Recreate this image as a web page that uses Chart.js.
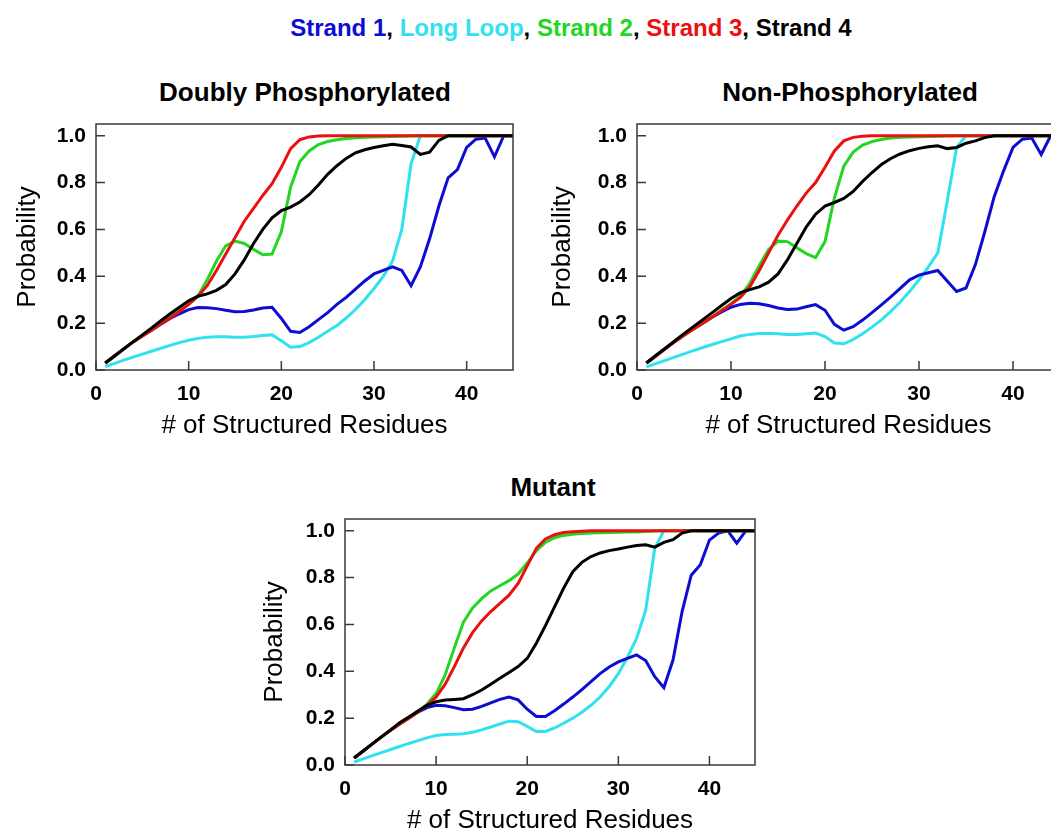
<!DOCTYPE html>
<html>
<head>
<meta charset="utf-8">
<title>Strand probability vs structured residues</title>
<script src="https://cdn.jsdelivr.net/npm/chart.js@4.4.1/dist/chart.umd.min.js"></script>
<style>
  html, body { margin: 0; padding: 0; background: #fff; overflow: hidden; }
  body { width: 1051px; height: 832px; position: relative; font-family: "Liberation Sans", Arial, sans-serif; }
  canvas { position: absolute; }
  .ttl { position: absolute; text-align: center; font-weight: bold; color: #000; white-space: nowrap; }
</style>
</head>
<body>

<div class="ttl" id="mainTitle" style="left:0; width:1142px; top:13px; font-size:24px; line-height:30px;">
  <span style="color:#0c0cd2">Strand 1</span>, <span style="color:#30e2f0">Long Loop</span>, <span style="color:#22d622">Strand 2</span>, <span style="color:#ea1010">Strand 3</span>, <span>Strand 4</span>
</div>
<div class="ttl" style="left:105px; width:400px; top:77px; font-size:26px; line-height:30px;">Doubly Phosphorylated</div>
<div class="ttl" style="left:650px; width:400px; top:77px; font-size:26px; line-height:30px;">Non-Phosphorylated</div>
<div class="ttl" style="left:353px; width:400px; top:472px; font-size:26px; line-height:30px;">Mutant</div>

<canvas id="chartDP" width="525" height="352" style="left:0px; top:94px;"></canvas>
<canvas id="chartNP" width="531" height="352" style="left:541px; top:94px;"></canvas>
<canvas id="chartMut" width="518" height="352" style="left:249px; top:489px;"></canvas>

<script>
// ============================================
// DATA (x = number of structured residues, 1..45)
// ============================================
const residues = [1,2,3,4,5,6,7,8,9,10,11,12,13,14,15,16,17,18,19,20,21,22,23,24,25,26,27,28,29,30,31,32,33,34,35,36,37,38,39,40,41,42,43,44,45];
const seriesNames = ['Strand 1', 'Long Loop', 'Strand 2', 'Strand 3', 'Strand 4'];
const xTicks = [0, 10, 20, 30, 40];
const yTicks = [0.0, 0.2, 0.4, 0.6, 0.8, 1.0];

// Doubly Phosphorylated
const dpStrand1 = [0.03,0.06,0.09,0.12,0.145,0.17,0.195,0.22,0.24,0.258,0.267,0.266,0.262,0.255,0.249,0.25,0.256,0.265,0.268,0.22,0.165,0.16,0.185,0.215,0.245,0.28,0.31,0.345,0.38,0.41,0.425,0.44,0.425,0.36,0.44,0.56,0.7,0.82,0.855,0.95,0.985,0.99,0.91,1.0,1.0];
const dpLongLoop = [0.015,0.028,0.042,0.055,0.068,0.08,0.093,0.105,0.117,0.127,0.135,0.14,0.142,0.142,0.14,0.14,0.143,0.147,0.15,0.125,0.097,0.1,0.117,0.14,0.165,0.19,0.222,0.258,0.3,0.348,0.4,0.465,0.6,0.88,1.0,1.0,1.0,1.0,1.0,1.0,1.0,1.0,1.0,1.0,1.0];
const dpStrand2 = [0.03,0.06,0.09,0.12,0.145,0.17,0.198,0.225,0.252,0.28,0.315,0.385,0.465,0.53,0.55,0.54,0.515,0.492,0.495,0.59,0.78,0.89,0.935,0.962,0.975,0.983,0.988,0.991,0.993,0.995,0.996,0.997,0.998,0.999,1.0,1.0,1.0,1.0,1.0,1.0,1.0,1.0,1.0,1.0,1.0];
const dpStrand3 = [0.03,0.06,0.09,0.12,0.145,0.17,0.197,0.222,0.25,0.28,0.315,0.36,0.425,0.495,0.565,0.635,0.69,0.745,0.795,0.865,0.945,0.983,0.995,0.999,1.0,1.0,1.0,1.0,1.0,1.0,1.0,1.0,1.0,1.0,1.0,1.0,1.0,1.0,1.0,1.0,1.0,1.0,1.0,1.0,1.0];
const dpStrand4 = [0.03,0.06,0.09,0.12,0.15,0.18,0.21,0.24,0.268,0.295,0.315,0.325,0.34,0.365,0.41,0.47,0.54,0.6,0.65,0.68,0.695,0.717,0.748,0.79,0.835,0.872,0.903,0.927,0.94,0.95,0.957,0.963,0.958,0.952,0.92,0.93,0.98,1.0,1.0,1.0,1.0,1.0,1.0,1.0,1.0];

// Non-Phosphorylated
const npStrand1 = [0.03,0.06,0.09,0.12,0.148,0.175,0.2,0.225,0.248,0.268,0.28,0.285,0.283,0.275,0.265,0.258,0.26,0.27,0.279,0.255,0.195,0.17,0.185,0.213,0.245,0.278,0.312,0.348,0.385,0.405,0.415,0.425,0.38,0.335,0.35,0.45,0.59,0.74,0.85,0.95,0.985,0.99,0.92,1.0,1.0];
const npLongLoop = [0.013,0.027,0.041,0.055,0.069,0.083,0.096,0.109,0.121,0.133,0.145,0.152,0.156,0.157,0.155,0.152,0.152,0.155,0.158,0.143,0.115,0.112,0.13,0.155,0.183,0.214,0.25,0.29,0.335,0.385,0.44,0.5,0.72,0.95,1.0,1.0,1.0,1.0,1.0,1.0,1.0,1.0,1.0,1.0,1.0];
const npStrand2 = [0.03,0.06,0.09,0.12,0.148,0.175,0.2,0.227,0.255,0.283,0.315,0.37,0.445,0.515,0.55,0.548,0.522,0.497,0.48,0.548,0.735,0.87,0.93,0.96,0.975,0.984,0.99,0.993,0.995,0.996,0.997,0.998,0.999,1.0,1.0,1.0,1.0,1.0,1.0,1.0,1.0,1.0,1.0,1.0,1.0];
const npStrand3 = [0.03,0.06,0.09,0.12,0.148,0.175,0.2,0.226,0.253,0.28,0.31,0.355,0.425,0.5,0.575,0.64,0.7,0.755,0.8,0.865,0.935,0.978,0.993,0.998,1.0,1.0,1.0,1.0,1.0,1.0,1.0,1.0,1.0,1.0,1.0,1.0,1.0,1.0,1.0,1.0,1.0,1.0,1.0,1.0,1.0];
const npStrand4 = [0.03,0.062,0.093,0.124,0.155,0.185,0.215,0.245,0.275,0.305,0.33,0.343,0.355,0.375,0.41,0.47,0.54,0.61,0.665,0.7,0.715,0.732,0.762,0.805,0.843,0.877,0.903,0.922,0.936,0.946,0.953,0.957,0.945,0.95,0.968,0.978,0.992,1.0,1.0,1.0,1.0,1.0,1.0,1.0,1.0];

// Mutant
const mutStrand1 = [0.03,0.06,0.09,0.12,0.148,0.175,0.2,0.225,0.245,0.255,0.253,0.245,0.236,0.238,0.25,0.265,0.28,0.29,0.278,0.238,0.207,0.207,0.232,0.26,0.29,0.322,0.356,0.39,0.418,0.44,0.455,0.47,0.446,0.377,0.33,0.448,0.655,0.81,0.855,0.96,0.99,1.0,0.947,1.0,1.0];
const mutLongLoop = [0.013,0.026,0.04,0.053,0.066,0.079,0.092,0.104,0.116,0.126,0.13,0.131,0.133,0.14,0.15,0.162,0.175,0.187,0.185,0.165,0.143,0.143,0.158,0.178,0.2,0.225,0.255,0.29,0.335,0.39,0.46,0.54,0.66,0.925,1.0,1.0,1.0,1.0,1.0,1.0,1.0,1.0,1.0,1.0,1.0];
const mutStrand2 = [0.03,0.06,0.09,0.12,0.148,0.175,0.2,0.227,0.26,0.305,0.385,0.5,0.61,0.67,0.71,0.743,0.765,0.787,0.815,0.862,0.915,0.95,0.97,0.98,0.985,0.988,0.99,0.991,0.992,0.993,0.994,0.995,0.997,0.999,1.0,1.0,1.0,1.0,1.0,1.0,1.0,1.0,1.0,1.0,1.0];
const mutStrand3 = [0.03,0.06,0.09,0.12,0.148,0.175,0.2,0.226,0.255,0.29,0.345,0.42,0.5,0.565,0.615,0.655,0.69,0.725,0.775,0.85,0.925,0.965,0.983,0.992,0.996,0.998,1.0,1.0,1.0,1.0,1.0,1.0,1.0,1.0,1.0,1.0,1.0,1.0,1.0,1.0,1.0,1.0,1.0,1.0,1.0];
const mutStrand4 = [0.03,0.06,0.09,0.12,0.15,0.18,0.205,0.23,0.255,0.27,0.277,0.28,0.283,0.3,0.32,0.345,0.37,0.395,0.42,0.455,0.52,0.595,0.675,0.755,0.825,0.865,0.89,0.905,0.915,0.922,0.93,0.937,0.94,0.93,0.95,0.962,0.99,1.0,1.0,1.0,1.0,1.0,1.0,1.0,1.0];

// ============================================
// STYLE
// ============================================
const seriesColors = ['#0c0cd2', '#30e2f0', '#22d622', '#ea1010', '#000000'];
// draw order: Strand 4 on top, Long Loop at the bottom
const seriesOrder = [3, 4, 2, 1, 0];
const FONT = '"Liberation Sans", Arial, sans-serif';

// frame box + inward tick marks
const frameTicks = {
    id: 'frameTicks',
    afterDatasetsDraw(chart) {
        const { ctx, chartArea: a, scales: { x, y } } = chart;
        ctx.save();
        ctx.strokeStyle = '#3a3a3a';
        ctx.lineWidth = 1.5;
        ctx.strokeRect(a.left, a.top, a.right - a.left, a.bottom - a.top);
        ctx.beginPath();
        xTicks.forEach(v => {
            const px = x.getPixelForValue(v);
            ctx.moveTo(px, a.bottom);
            ctx.lineTo(px, a.bottom - 9);
        });
        yTicks.forEach(v => {
            const py = y.getPixelForValue(v);
            ctx.moveTo(a.left, py);
            ctx.lineTo(a.left + 9, py);
        });
        ctx.stroke();
        ctx.restore();
    }
};

function makePanel(canvasId, values, yTitlePad) {
    const datasets = values.map((vals, i) => ({
        label: seriesNames[i],
        data: residues.map((r, k) => ({ x: r, y: vals[k] })),
        borderColor: seriesColors[i],
        borderWidth: 3,
        pointRadius: 0,
        tension: 0,
        fill: false,
        order: seriesOrder[i]
    }));

    const chart = new Chart(document.getElementById(canvasId), {
        type: 'line',
        data: { datasets },
        options: {
            responsive: false,
            animation: false,
            layout: { padding: { top: 30, right: 12, bottom: 0, left: 0 } },
            plugins: { legend: { display: false }, tooltip: { enabled: false } },
            scales: {
                x: {
                    type: 'linear',
                    min: 0,
                    max: 45,
                    afterBuildTicks: s => { s.ticks = xTicks.map(v => ({ value: v })); },
                    afterFit: s => { s.height = 76; },
                    grid: { display: false, drawTicks: false },
                    border: { display: false },
                    ticks: {
                        padding: 12,
                        maxRotation: 0,
                        color: '#000',
                        font: { family: FONT, size: 21, weight: 'bold' },
                        callback: v => String(v)
                    },
                    title: {
                        display: true,
                        text: '# of Structured Residues',
                        color: '#000',
                        font: { family: FONT, size: 26 },
                        padding: { top: 0, bottom: 5 }
                    }
                },
                y: {
                    type: 'linear',
                    min: 0,
                    max: 1.05,
                    afterBuildTicks: s => { s.ticks = yTicks.map(v => ({ value: v })); },
                    afterFit: s => { s.width = 96; },
                    grid: { display: false, drawTicks: false },
                    border: { display: false },
                    ticks: {
                        padding: 10,
                        color: '#000',
                        font: { family: FONT, size: 21, weight: 'bold' },
                        callback: v => v.toFixed(1)
                    },
                    title: {
                        display: true,
                        text: 'Probability',
                        color: '#000',
                        font: { family: FONT, size: 26 },
                        padding: { top: yTitlePad, bottom: 0 }
                    }
                }
            }
        },
        plugins: [frameTicks]
    });
    console.log(canvasId, 'chartArea', JSON.stringify(chart.chartArea));
    return chart;
}

makePanel('chartDP', [dpStrand1, dpLongLoop, dpStrand2, dpStrand3, dpStrand4], 12);
makePanel('chartNP', [npStrand1, npLongLoop, npStrand2, npStrand3, npStrand4], 6);
makePanel('chartMut', [mutStrand1, mutLongLoop, mutStrand2, mutStrand3, mutStrand4], 10);
</script>
</body>
</html>
